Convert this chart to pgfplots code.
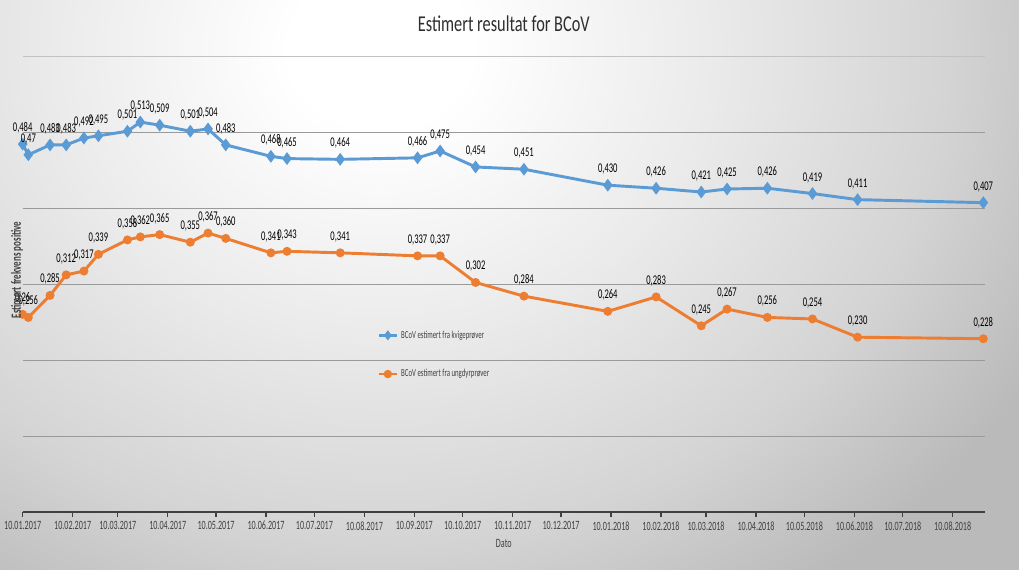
\documentclass[border=0pt]{standalone}
\usepackage{fontspec}
\setmainfont{Carlito}[FakeStretch=0.72]
\newfontfamily\narrowfont{Carlito}[FakeStretch=0.64]
\usepackage{pgfplots}
\pgfplotsset{compat=1.18}
\usepackage{pgfplotstable}
\definecolor{cblue}{HTML}{5B9BD5}
\definecolor{corange}{HTML}{ED7D31}
\definecolor{gridc}{HTML}{9A9A9A}
\definecolor{axc}{HTML}{404040}
\definecolor{titc}{HTML}{2E2E2E}
\pgfdeclareradialshading{bgshade}{\pgfpoint{0bp}{0bp}}{color(0bp)=(white); color(3bp)=(white); color(11bp)=(black!8); color(19bp)=(black!17); color(25bp)=(black!27); color(50bp)=(black!27)}

\pgfplotstableread{
day val lab
0   0.484 0,484
3.5 0.47  0,47
17  0.483 0,483
27  0.483 0,483
38  0.492 0,492
47  0.495 0,495
65  0.501 0,501
73  0.513 0,513
85  0.509 0,509
104 0.501 0,501
115 0.504 0,504
126 0.483 0,483
154 0.468 0,468
164 0.465 0,465
197 0.464 0,464
245 0.466 0,466
259 0.475 0,475
281 0.454 0,454
311 0.451 0,451
363 0.430 0,430
393 0.426 0,426
421 0.421 0,421
437 0.425 0,425
462 0.426 0,426
490 0.419 0,419
518 0.411 0,411
596 0.407 0,407
}\kvige

\pgfplotstableread{
day val lab
0   0.26  0,26
3.5 0.256 0,256
17  0.285 0,285
27  0.312 0,312
38  0.317 0,317
47  0.339 0,339
65  0.358 0,358
73  0.362 0,362
85  0.365 0,365
104 0.355 0,355
115 0.367 0,367
126 0.360 0,360
154 0.341 0,341
164 0.343 0,343
197 0.341 0,341
245 0.337 0,337
259 0.337 0,337
281 0.302 0,302
311 0.284 0,284
363 0.264 0,264
393 0.283 0,283
421 0.245 0,245
437 0.267 0,267
462 0.256 0,256
490 0.254 0,254
518 0.230 0,230
596 0.228 0,228
}\ungdyr

\begin{document}
\begin{tikzpicture}
\useasboundingbox (0,0) rectangle (764.25pt,427.5pt);
\begin{scope}
\clip (0,0) rectangle (764.25pt,427.5pt);
\shade[shading=bgshade] (-277.5pt,-97.5pt) rectangle (847.5pt,877.5pt);
\end{scope}
\begin{axis}[
  at={(17pt,43.5pt)}, anchor=south west,
  scale only axis, width=721.7pt, height=342pt,
  xmin=0, xmax=597, ymin=0, ymax=0.6,
  axis y line=none, axis x line*=bottom,
  x axis line style={axc, line width=1.5pt, -},
  xtick={0,31,59,90,120,151,181,212,243,273,304,334,365,396,424,455,485,516,546,577},
  xticklabels={10.01.2017,10.02.2017,10.03.2017,10.04.2017,10.05.2017,10.06.2017,10.07.2017,10.08.2017,10.09.2017,10.10.2017,10.11.2017,10.12.2017,10.01.2018,10.02.2018,10.03.2018,10.04.2018,10.05.2018,10.06.2018,10.07.2018,10.08.2018},
  xticklabel style={font=\narrowfont\fontsize{9.5}{11}\selectfont, text=axc, yshift=0pt},
  tick align=outside, major tick length=3.5pt,
  tick style={axc, line width=1pt},
  ytick={0.1,0.2,0.3,0.4,0.5,0.6},
  clip=false,
  xlabel={Dato},
  xlabel style={font=\narrowfont\fontsize{9.5}{11}\selectfont, text=axc, yshift=0pt},
  title={Estimert resultat for BCoV},
  title style={font=\fontsize{17}{20}\selectfont, text=titc, yshift=9pt},
  legend style={draw=none, fill=none, at={(0.364,0.41)}, anchor=north west,
    font=\narrowfont\fontsize{8}{10}\selectfont, row sep=18pt, text=axc},
  legend cell align=left,
  legend image code/.code={
    \draw[#1, line width=2pt] (0pt,0pt) -- (14pt,0pt);
    \draw[#1, mark size=2pt] plot coordinates {(7pt,0pt)};
  },
  nodes near coords,
  point meta=explicit symbolic,
  every node near coord/.append style={font=\narrowfont\fontsize{10}{12}\selectfont, text=black, inner sep=1pt, yshift=6pt},
]
\draw[gridc, line width=0.7pt] (axis cs:0,0.1) -- (axis cs:597,0.1);
\draw[gridc, line width=0.7pt] (axis cs:0,0.2) -- (axis cs:597,0.2);
\draw[gridc, line width=0.7pt] (axis cs:0,0.3) -- (axis cs:597,0.3);
\draw[gridc, line width=0.7pt] (axis cs:0,0.4) -- (axis cs:597,0.4);
\draw[gridc, line width=0.7pt] (axis cs:0,0.5) -- (axis cs:597,0.5);
\draw[gridc!60, line width=0.7pt] (axis cs:0,0.6) -- (axis cs:597,0.6);
\addplot[cblue, line width=2.2pt, mark=diamond*, mark size=3pt, mark options={solid}] table[x=day, y=val, meta=lab] {\kvige};
\addlegendentry{BCoV estimert fra kvigeprøver}
\addplot[corange, line width=2.2pt, mark=*, mark size=2.2pt, mark options={solid}] table[x=day, y=val, meta=lab] {\ungdyr};
\addlegendentry{BCoV estimert fra ungdyrprøver}
\end{axis}
\node[rotate=90, font=\bfseries\narrowfont\fontsize{10.5}{12}\selectfont, text=axc] at (12.75pt,225pt) {Estimert frekvens positive};
\end{tikzpicture}
\end{document}
